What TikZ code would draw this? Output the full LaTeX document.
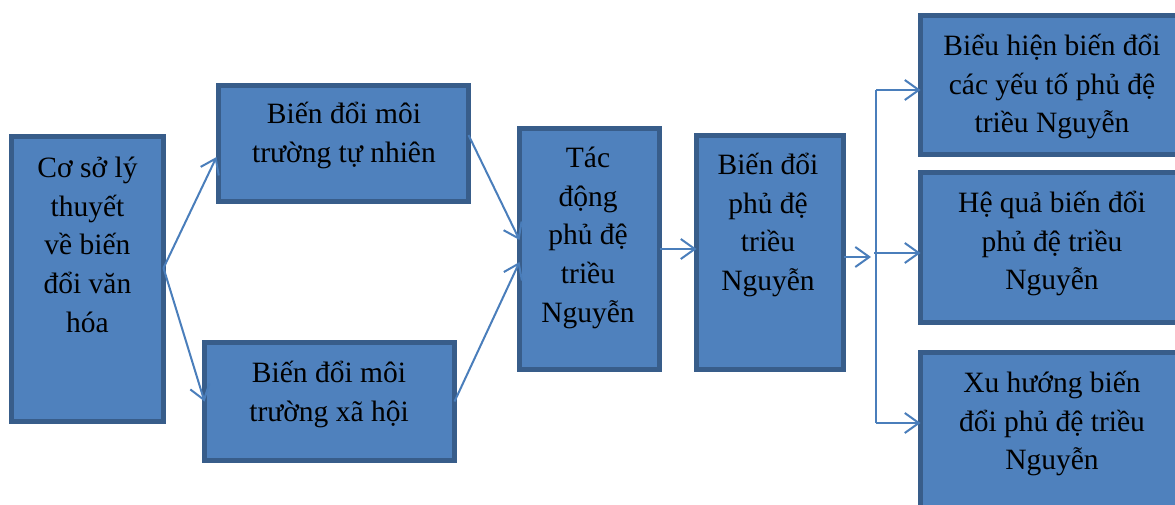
\documentclass[tikz,border=0pt]{standalone}
\usepackage{fontspec}
\setmainfont{Liberation Serif}
\usetikzlibrary{arrows.meta,calc}
\definecolor{boxfill}{HTML}{4F81BD}
\definecolor{boxline}{HTML}{385D8A}
\definecolor{conncol}{HTML}{4A7EBB}
\begin{document}
\begin{tikzpicture}[x=1pt,y=-1pt,
  blk/.style={draw=boxline, fill=boxfill, line width=5pt, inner sep=0pt, outer sep=0pt},
  txt/.style={anchor=north, inner sep=0pt, align=center, font=\fontsize{29.5}{38.8}\selectfont},
  conn/.style={draw=conncol, line width=2pt, -{Straight Barb[length=14pt,width=20pt]}},
  trunk/.style={draw=conncol, line width=2pt, line cap=square}]
\useasboundingbox (0,0) rectangle (1175,504);
\fill[white] (0,0) rectangle (1175,504);
% boxes
\node[blk, minimum width=152pt, minimum height=285pt] (b1) at (87.5,279) {};
\node[blk, minimum width=250pt, minimum height=116pt] (b2) at (343.5,143.5) {};
\node[blk, minimum width=250pt, minimum height=118pt] (b3) at (329.5,401.5) {};
\node[blk, minimum width=140pt, minimum height=241pt] (b4) at (589.5,249) {};
\node[blk, minimum width=147pt, minimum height=234pt] (b5) at (770,252.5) {};
\node[blk, minimum width=270pt, minimum height=139pt] (b6) at (1055.5,85) {};
\node[blk, minimum width=270pt, minimum height=150pt] (b7) at (1055.5,247.5) {};
\node[blk, minimum width=270pt, minimum height=168pt] (b8) at (1055.5,436.5) {};
% texts
\node[txt] (t1) at (87.5,147) {\rule{0pt}{30pt}Cơ sở lý\\thuyết\\về biến\\đổi văn\\hóa};
\node[txt] (t2) at (344,93) {\rule{0pt}{30pt}Biến đổi môi\\trường tự nhiên};
\node[txt] (t3) at (329,352) {\rule{0pt}{30pt}Biến đổi môi\\trường xã hội};
\node[txt] (t4) at (588,137) {\rule{0pt}{30pt}Tác\\động\\phủ đệ\\triều\\Nguyễn};
\node[txt] (t5) at (768,144) {\rule{0pt}{30pt}Biến đổi\\phủ đệ\\triều\\Nguyễn};
\node[txt] (t6) at (1052,25) {\rule{0pt}{30pt}Biểu hiện biến đổi\\các yếu tố phủ đệ\\triều Nguyễn};
\node[txt] (t7) at (1052,182) {\rule{0pt}{30pt}Hệ quả biến đổi\\phủ đệ triều\\Nguyễn};
\node[txt] (t8) at (1052,362) {\rule{0pt}{30pt}Xu hướng biến\\đổi phủ đệ triều\\Nguyễn};
% connectors
\draw[conn] ([yshift=11pt]b1.east) -- ([xshift=-2pt,yshift=-13.5pt]b2.west);
\draw[conn] ([yshift=11pt]b1.east) -- (b3.west);
\draw[conn] ([yshift=8.5pt]b2.east) -- ([yshift=9pt]b4.west);
\draw[conn] (b3.east) -- ([yshift=-13pt]b4.west);
\draw[conn] (b4.east) -- (b4.east -| b5.west);
\coordinate (jin) at (871,257);
\coordinate (jtop) at (876,90);
\coordinate (jmid) at (874,253);
\coordinate (jbot) at (876,423);
\draw[conn] ([yshift=-4.5pt]b5.east) -- (jin);
\draw[trunk] (jtop) -- (jbot);
\draw[conn] (jtop) -- (jtop -| b6.west);
\draw[conn] (jmid) -- (jmid -| b7.west);
\draw[conn] (jbot) -- (jbot -| b8.west);
\end{tikzpicture}
\end{document}
